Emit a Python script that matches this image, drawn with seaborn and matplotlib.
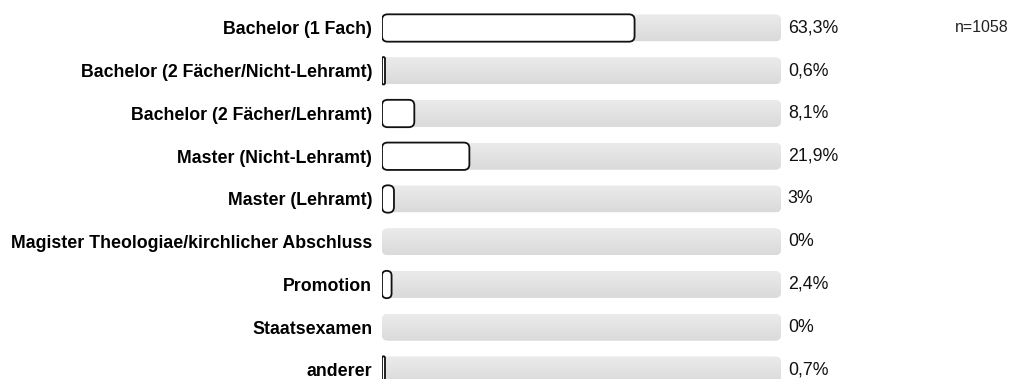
import matplotlib
matplotlib.use("Agg")
import matplotlib.pyplot as plt
import seaborn as sns
import pandas as pd
import numpy as np
from matplotlib.patches import FancyBboxPatch

categories = [
    "Bachelor (1 Fach)",
    "Bachelor (2 Fächer/Nicht-Lehramt)",
    "Bachelor (2 Fächer/Lehramt)",
    "Master (Nicht-Lehramt)",
    "Master (Lehramt)",
    "Magister Theologiae/kirchlicher Abschluss",
    "Promotion",
    "Staatsexamen",
    "anderer",
]
values = [63.3, 0.6, 8.1, 21.9, 3.0, 0.0, 2.4, 0.0, 0.7]
value_labels = ["63,3%", "0,6%", "8,1%", "21,9%", "3%", "0%", "2,4%", "0%", "0,7%"]
track_values = [100] * len(categories)
n_text = "n=1058"

sns.set_theme(style="white")
plt.rcParams["font.family"] = ["Liberation Sans", "DejaVu Sans"]

W, H = 1009, 379
fig = plt.figure(figsize=(W / 100, H / 100), dpi=100)
# rows: first centre at y=28 px, last at y=370 px from top
step = (370 - 28) / 8.0
ax_top_px = 0
ax_bot_px = 379
ax = fig.add_axes([382 / W, 0, 399 / W, 1.0])
y_top = -(28 - ax_top_px) / step
y_bot = 8 + (ax_bot_px - 370) / step

df = pd.DataFrame({"cat": categories, "val": values, "track": track_values})

sns.barplot(data=df, x="track", y="cat", orient="h", color="#e3e3e3",
            width=0.62, ax=ax, saturation=1)
n_track = len(ax.patches)
sns.barplot(data=df, x="val", y="cat", orient="h", color="white",
            width=0.62, ax=ax, saturation=1)

px_x = 399 / 100.0
aspect = px_x / step
cmap = matplotlib.colors.LinearSegmentedColormap.from_list("g", ["#ebebeb", "#dadada"])

patches = list(ax.patches)
for i, p in enumerate(patches):
    x0, y0 = p.get_x(), p.get_y()
    w, h = p.get_width(), p.get_height()
    p.remove()
    is_track = i < n_track
    if w <= 0:
        continue
    if is_track:
        r = 1.4
        fb = FancyBboxPatch((x0, y0), w, h,
                            boxstyle=f"round,pad=0,rounding_size={r}",
                            mutation_aspect=aspect, facecolor="#e3e3e3",
                            edgecolor="none", zorder=1)
        ax.add_patch(fb)
        grad = np.linspace(0, 1, 50).reshape(-1, 1)
        im = ax.imshow(grad, extent=(x0, x0 + w, y0 + h, y0), aspect="auto",
                       cmap=cmap, zorder=1.5)
        im.set_clip_path(fb)
    else:
        lw_w = max(w, 0.75)
        r = min(1.4, lw_w / 2)
        fb = FancyBboxPatch((x0, y0 - 0.01), lw_w, h + 0.02,
                            boxstyle=f"round,pad=0,rounding_size={r}",
                            mutation_aspect=aspect, facecolor="white",
                            edgecolor="#111111", linewidth=1.3, zorder=3)
        ax.add_patch(fb)

ax.set_xlim(0, 100)
ax.set_ylim(y_bot, y_top)
ax.set_xlabel("")
ax.set_ylabel("")
ax.set_xticks([])
ax.tick_params(axis="y", length=0, pad=7)
ax.set_yticks(range(len(categories)))
ax.set_yticklabels(categories, fontsize=12.8, fontweight="bold", color="black")
for s in ax.spines.values():
    s.set_visible(False)

for i, lab in enumerate(value_labels):
    ax.text(101.7, i, lab, va="center", ha="left", fontsize=12.8, color="#111111")

fig.text(955 / W, 1 - 27 / H, n_text, ha="left", va="center", fontsize=11.5,
         color="#222222")

fig.savefig("out.png", dpi=100, facecolor="white")
